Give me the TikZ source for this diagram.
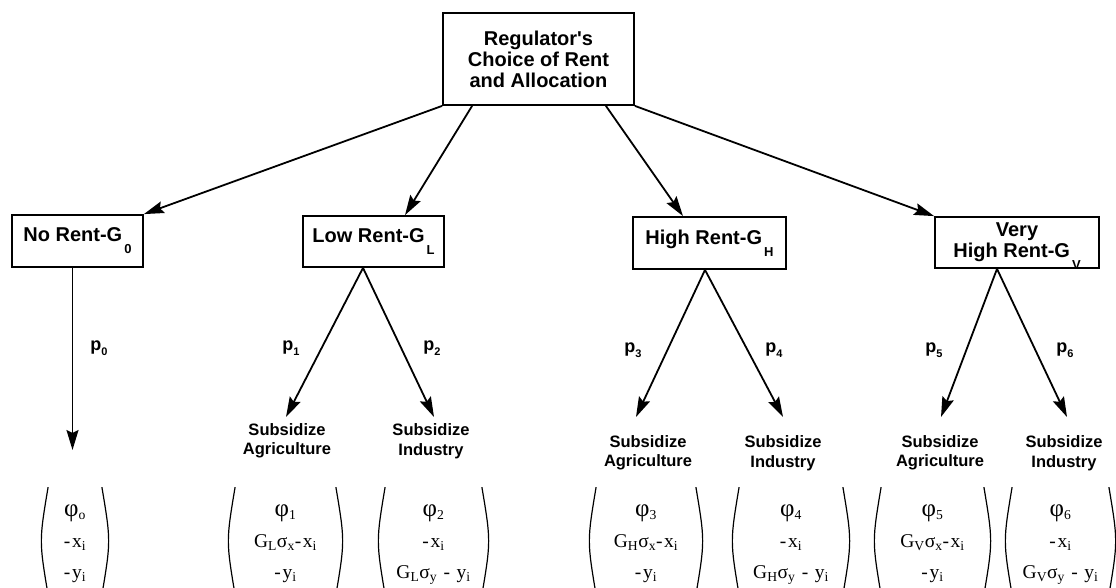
\documentclass[tikz,border=0pt]{standalone}
\usepackage{fontspec}
\setmainfont{Liberation Sans}
\newfontfamily\vecfont[LetterSpace=8]{Liberation Serif}
\usetikzlibrary{arrows.meta, positioning}
\tikzset{
  every picture/.style={line width=1.8pt},
  box/.style={draw, rectangle, align=center, inner sep=2pt, font=\fontsize{20}{21}\selectfont\bfseries},
  arrow/.style={-{Stealth[length=20pt, width=12pt, inset=3pt]}, line width=1.8pt},
  plabel/.style={font=\fontsize{18}{18}\selectfont\bfseries},
  choice/.style={align=center, inner sep=0pt, font=\fontsize{16.5}{19.5}\selectfont\bfseries},
  vec/.style={inner sep=0pt, minimum height=106pt, font=\vecfont\fontsize{19.5}{18}\selectfont},
  paren/.style={line width=1.2pt},
}
\newcommand{\gsub}[1]{\hspace{2pt}\raisebox{-12pt}{\fontsize{13}{13}\selectfont #1}}
\newcommand{\psub}[1]{\raisebox{-5pt}{\fontsize{11}{11}\selectfont #1}}
\newcommand{\phisym}{{\fontsize{25}{18}\selectfont φ}}
\newcommand{\payoff}[3]{\def\arraystretch{1.72}\begin{tabular}{@{}c@{}}#1\\#2\\#3\end{tabular}}

\begin{document}
\begin{tikzpicture}[x=1pt, y=-1pt]
  \useasboundingbox (0,0) rectangle (1116,588);
  \clip (0,0) rectangle (1116,588);
  % regulator and the four rent levels
  \node[box, minimum width=191pt, minimum height=92pt] (reg) at (538.5,59) {Regulator\textquotesingle s\\Choice of Rent\\and Allocation};
  \node[box, minimum width=131pt, minimum height=52pt] (g0) at (77.5,241) {No Rent-G\gsub{0}};
  \node[box, minimum width=141pt, minimum height=51pt] (gl) at (373.5,241.5) {Low Rent-G\gsub{L}};
  \node[box, minimum width=153pt, minimum height=52pt] (gh) at (709.5,243) {High Rent-G\gsub{H}};
  \node[box, minimum width=164pt, minimum height=51pt] (gv) at (1017,242.5) {Very\\High Rent-G\smash{\gsub{V}}};
  \draw[arrow] (reg.south west) -- (g0.north east);
  \draw[arrow] ([xshift=30pt]reg.south west) -- ([xshift=31.5pt]gl.north);
  \draw[arrow] ([xshift=-29pt]reg.south east) -- ([xshift=-26.5pt]gh.north);
  \draw[arrow] (reg.south east) -- (gv.north west);
  % branch ends
  \coordinate (t0) at (72.5,450);
  \foreach \n/\x in {1/286, 2/434, 3/636, 4/783, 5/941, 6/1067}
    \coordinate (t\n) at (\x,417);
  \draw[arrow] ([xshift=-5pt]g0.south) -- (t0);
  \draw[arrow] ([xshift=-10.5pt]gl.south) -- (t1);
  \draw[arrow] ([xshift=-10.5pt]gl.south) -- (t2);
  \draw[arrow] ([xshift=-4.5pt]gh.south) -- (t3);
  \draw[arrow] ([xshift=-4.5pt]gh.south) -- (t4);
  \draw[arrow] ([xshift=-20pt]gv.south) -- (t5);
  \draw[arrow] ([xshift=-20pt]gv.south) -- (t6);
  % probabilities
  \foreach \n/\x/\y in {0/99/348, 1/291/348, 2/432/348, 3/633/350, 4/774/350, 5/934/350, 6/1065/350}
    \node[plabel] (p\n) at (\x,\y) {p\psub{\n}};
  % subsidy choices
  \foreach \n/\x/\y/\t in {1/287/441/Agriculture, 2/431/441/Industry, 3/648/453/Agriculture,
                           4/783/453/Industry, 5/940/453/Agriculture, 6/1064/453/Industry}
    \node[choice] (s\n) at (\x,\y) {Subsidize\\\t};
  % payoff vectors, brackets drawn round each
  \foreach \n/\x/\w/\a/\b/\c in {
      0/75/58/\phisym\textsubscript{o}/-x\textsubscript{i}/-y\textsubscript{i},
      1/285.5/105/\phisym\textsubscript{1}/G\textsubscript{L}σ\textsubscript{x}-x\textsubscript{i}/-y\textsubscript{i},
      2/433.5/101/\phisym\textsubscript{2}/-x\textsubscript{i}/G\textsubscript{L}σ\textsubscript{y} - y\textsubscript{i},
      3/646/104/\phisym\textsubscript{3}/G\textsubscript{H}σ\textsubscript{x}-x\textsubscript{i}/-y\textsubscript{i},
      4/791/108/\phisym\textsubscript{4}/-x\textsubscript{i}/G\textsubscript{H}σ\textsubscript{y} - y\textsubscript{i},
      5/932.5/107/\phisym\textsubscript{5}/G\textsubscript{V}σ\textsubscript{x}-x\textsubscript{i}/-y\textsubscript{i},
      6/1060.5/101/\phisym\textsubscript{6}/-x\textsubscript{i}/G\textsubscript{V}σ\textsubscript{y} - y\textsubscript{i}} {
    \node[vec, minimum width=\w pt] (v\n) at (\x,541) {\payoff{\a}{\b}{\c}};
    \draw[paren] ([xshift=3pt]v\n.north west) .. controls ([xshift=-6pt]v\n.west) .. ([xshift=3pt]v\n.south west);
    \draw[paren] ([xshift=-3pt]v\n.north east) .. controls ([xshift=6pt]v\n.east) .. ([xshift=-3pt]v\n.south east);
  }
\end{tikzpicture}
\end{document}
